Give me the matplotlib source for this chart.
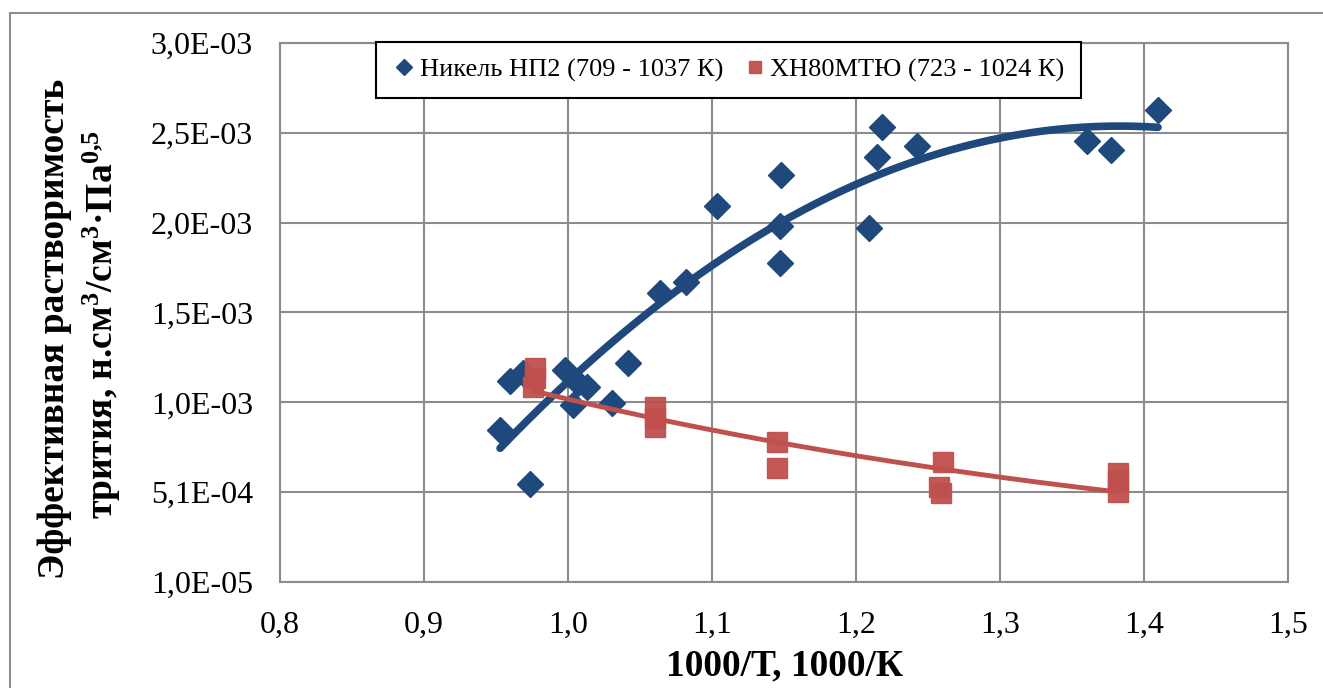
import numpy as np
import matplotlib
matplotlib.use("Agg")
import matplotlib.pyplot as plt
from matplotlib.patches import Rectangle
from matplotlib.ticker import FixedLocator, FuncFormatter

plt.rcParams['font.family'] = ['Liberation Serif', 'DejaVu Serif']
plt.rcParams['mathtext.fontset'] = 'custom'
plt.rcParams['mathtext.rm'] = 'Liberation Serif:bold'
plt.rcParams['mathtext.it'] = 'Liberation Serif:bold'
plt.rcParams['mathtext.bf'] = 'Liberation Serif:bold'

# --- data ---
ni_label = "Никель НП2 (709 - 1037 К)"
ni_x = [0.9528, 0.9597, 0.9688, 0.9736, 0.9979, 1.0035, 1.0069, 1.0132, 1.0306,
        1.0417, 1.0639, 1.0819, 1.1035, 1.1479, 1.1472, 1.1472, 1.2090, 1.2146,
        1.2181, 1.2424, 1.3604, 1.3771, 1.4097]
ni_y = [8.57e-4, 1.130e-3, 1.175e-3, 5.56e-4, 1.192e-3, 0.997e-3, 1.119e-3, 1.097e-3, 1.008e-3,
        1.231e-3, 1.621e-3, 1.677e-3, 2.100e-3, 2.273e-3, 1.989e-3, 1.783e-3, 1.983e-3, 2.373e-3,
        2.541e-3, 2.435e-3, 2.463e-3, 2.412e-3, 2.635e-3]

kh_label = "ХН80МТЮ (723 - 1024 К)"
kh_x = [0.9771, 0.9771, 0.9757, 1.0604, 1.0604, 1.0604, 1.1451, 1.1451,
        1.2604, 1.2576, 1.2590, 1.3819, 1.3819, 1.3819]
kh_y = [1.203e-3, 1.147e-3, 1.097e-3, 0.985e-3, 0.924e-3, 0.874e-3, 0.790e-3, 0.645e-3,
        0.679e-3, 0.540e-3, 0.506e-3, 0.618e-3, 0.579e-3, 0.512e-3]

x_ticks = [0.8, 0.9, 1.0, 1.1, 1.2, 1.3, 1.4, 1.5]
y_ticks = [1.0e-5, 5.1e-4, 1.01e-3, 1.51e-3, 2.01e-3, 2.51e-3, 3.01e-3]
y_min, y_max = 1.0e-5, 3.01e-3

xlabel = "1000/Т, 1000/К"
ylabel1 = "Эффективная растворимость"
ylabel2 = "трития, н.см$^3$/см$^3$·Па$^{0{,}5}$"

blue = '#1F497D'
red = '#C0504D'
grid_c = '#8C8C8C'

W, H = 1323, 688
fig = plt.figure(figsize=(W / 100, H / 100), dpi=100)
fig.patch.set_facecolor('white')

# outer chart border
fig.patches.append(Rectangle((10 / W, -0.2), 2.0, (H - 13) / H + 0.2, transform=fig.transFigure,
                             fill=False, edgecolor='#8C8C8C', linewidth=1.5, clip_on=False))

ax = fig.add_axes([280 / W, (H - 582) / H, (1288 - 280) / W, (582 - 43) / H])
ax.set_xlim(0.8, 1.5)
ax.set_ylim(y_min, y_max)
ax.xaxis.set_major_locator(FixedLocator(x_ticks))
ax.yaxis.set_major_locator(FixedLocator(y_ticks))
ax.xaxis.set_major_formatter(FuncFormatter(lambda v, p: f"{v:.1f}".replace('.', ',')))
ax.yaxis.set_major_formatter(FuncFormatter(lambda v, p: f"{v:.1E}".replace('.', ',')))
ax.tick_params(axis='both', length=0, labelsize=23, colors='black')
ax.tick_params(axis='y', pad=19.5)
ax.tick_params(axis='x', pad=21)
ax.grid(True, color=grid_c, linewidth=1.5)
ax.set_axisbelow(True)
for s in ax.spines.values():
    s.set_color(grid_c)
    s.set_linewidth(1.5)

# scatter series
ax.plot(ni_x, ni_y, linestyle='none', marker='D', ms=13.5, color=blue, mec=blue,
        label=ni_label, zorder=3, clip_on=False)
ax.plot(kh_x, kh_y, linestyle='none', marker='s', ms=15, color=red, mec=red, alpha=0.95,
        label=kh_label, zorder=4, clip_on=False)

# trendlines (fitted from data)
xb = np.array(ni_x)
cb = np.polyfit(xb, np.array(ni_y), 2)
xs = np.linspace(xb.min(), xb.max(), 200)
ax.plot(xs, np.polyval(cb, xs), color=blue, lw=5.5, solid_capstyle='round', zorder=5)

xr = np.array(kh_x)
cr = np.polyfit(xr, np.log(np.array(kh_y)), 1)
xs2 = np.linspace(xr.min(), xr.max(), 200)
ax.plot(xs2, np.exp(np.polyval(cr, xs2)), color=red, lw=3.5, solid_capstyle='round', zorder=6)

# legend
leg = fig.legend(loc='upper left', bbox_to_anchor=(376 / W, 1 - 42 / H), ncol=2,
                 fontsize=19, frameon=True, fancybox=False, markerscale=0.6,
                 handlelength=0.9, handletextpad=0.15, columnspacing=0.75,
                 borderpad=0.6, borderaxespad=0)
leg.get_frame().set_edgecolor('black')
leg.get_frame().set_linewidth(1.5)
leg.get_frame().set_facecolor('white')
leg.get_frame().set_alpha(1)

# axis titles
fig.text(785 / W, 1 - 666 / H, xlabel, ha='center', va='center', fontsize=27, fontweight='bold')
fig.text(55 / W, 1 - 329 / H, ylabel1, ha='center', va='center', rotation=90,
         fontsize=27, fontweight='bold')
fig.text(102 / W, 1 - 325 / H, ylabel2, ha='center', va='center', rotation=90,
         fontsize=27, fontweight='bold')

fig.savefig('out.png', dpi=100, facecolor='white')
